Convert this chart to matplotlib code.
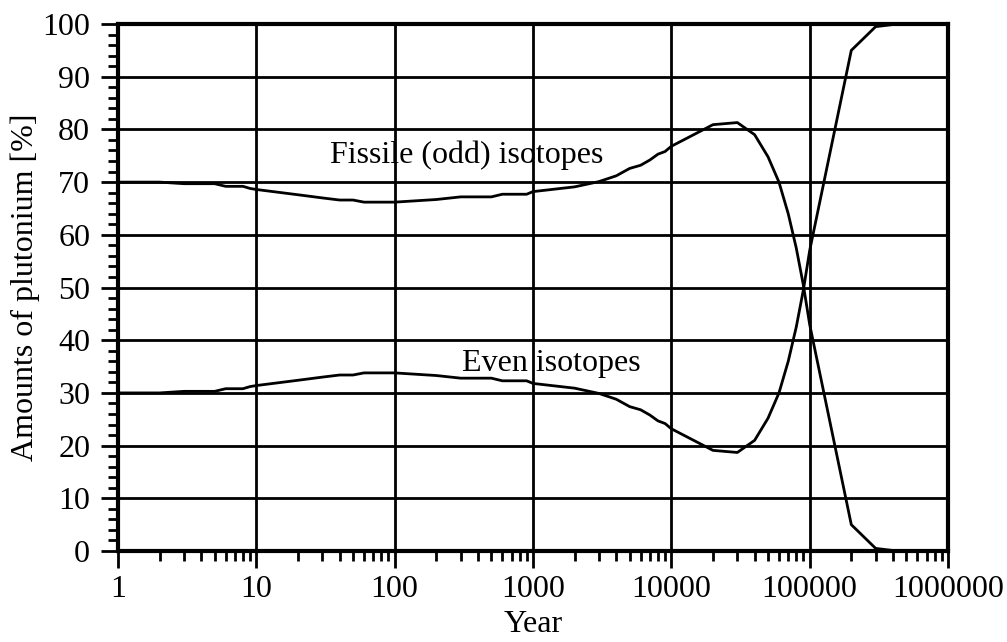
import matplotlib.pyplot as plt
from matplotlib.ticker import LogLocator, MultipleLocator, FixedLocator, FixedFormatter

years = [1, 2, 3, 4, 5, 6, 7, 8, 9, 10, 20, 30, 40, 50, 60, 70, 80, 90, 100,
         200, 300, 400, 500, 600, 700, 800, 900, 1000, 2000, 3000, 4000, 5000,
         6000, 7000, 8000, 9000, 10000, 20000, 30000, 40000, 50000, 60000,
         70000, 80000, 90000, 100000, 200000, 300000, 400000, 500000, 1000000]

fissile = [70.0, 70.0, 69.7, 69.7, 69.7, 69.2, 69.2, 69.2, 68.8, 68.6, 67.6,
           67.0, 66.6, 66.6, 66.2, 66.2, 66.2, 66.2, 66.2, 66.7, 67.2, 67.2,
           67.2, 67.7, 67.7, 67.7, 67.7, 68.2, 69.1, 70.1, 71.2, 72.6, 73.2,
           74.2, 75.3, 75.8, 76.8, 80.9, 81.3, 79.0, 74.8, 70.0, 64.0, 57.5,
           50.5, 43.0, 5.0, 0.5, 0.1, 0.0, 0.0]

even = [30.0, 30.0, 30.3, 30.3, 30.3, 30.8, 30.8, 30.8, 31.2, 31.4, 32.4,
        33.0, 33.4, 33.4, 33.8, 33.8, 33.8, 33.8, 33.8, 33.3, 32.8, 32.8,
        32.8, 32.3, 32.3, 32.3, 32.3, 31.8, 30.9, 29.9, 28.8, 27.4, 26.8,
        25.8, 24.7, 24.2, 23.2, 19.1, 18.7, 21.0, 25.2, 30.0, 36.0, 42.5,
        49.5, 57.0, 95.0, 99.5, 99.9, 100.0, 100.0]

x_ticks = [1, 10, 100, 1000, 10000, 100000, 1000000]
x_labels = ["1", "10", "100", "1000", "10000", "100000", "1000000"]
y_ticks = list(range(0, 101, 10))

plt.rcParams['font.family'] = ['Liberation Serif', 'DejaVu Serif']
plt.rcParams['font.size'] = 23

fig = plt.figure(figsize=(10.07, 6.42), dpi=100)
ax = fig.add_axes([0.1172, 0.1417, 0.8242, 0.8209])

ax.set_xscale('log')
ax.set_xlim(1, 1000000)
ax.set_ylim(0, 100)

for yv in y_ticks:
    ax.axhline(yv, color='black', lw=2.0, zorder=1)
for xv in x_ticks:
    ax.axvline(xv, color='black', lw=2.0, zorder=1)

ax.plot(years, fissile, color='black', lw=2.0, zorder=3, clip_on=False)
ax.plot(years, even, color='black', lw=2.0, zorder=3, clip_on=False)

ax.text(34, 73.6, "Fissile (odd) isotopes", ha='left', va='baseline')
ax.text(307, 34.2, "Even isotopes", ha='left', va='baseline')

ax.xaxis.set_major_locator(FixedLocator(x_ticks))
ax.xaxis.set_major_formatter(FixedFormatter(x_labels))
ax.xaxis.set_minor_locator(LogLocator(base=10, subs=range(2, 10), numticks=20))
ax.yaxis.set_major_locator(FixedLocator(y_ticks))
ax.yaxis.set_minor_locator(MultipleLocator(2))

ax.tick_params(which='major', direction='out', length=12, width=2,
               top=False, right=False)
ax.tick_params(which='minor', direction='out', length=7, width=2,
               top=False, right=False)
ax.tick_params(axis='x', which='major', pad=5)
ax.tick_params(axis='y', which='major', pad=8)
ax.tick_params(axis='x', which='minor', labelbottom=False)

for s in ax.spines.values():
    s.set_linewidth(3)
    s.set_zorder(4)

fig.text(0.529, 0.0265, "Year", ha='center', va='center')
fig.text(0.0248, 0.553, "Amounts of plutonium [%]", ha='center', va='center',
         rotation=90)

fig.savefig("out.png", dpi=100)
